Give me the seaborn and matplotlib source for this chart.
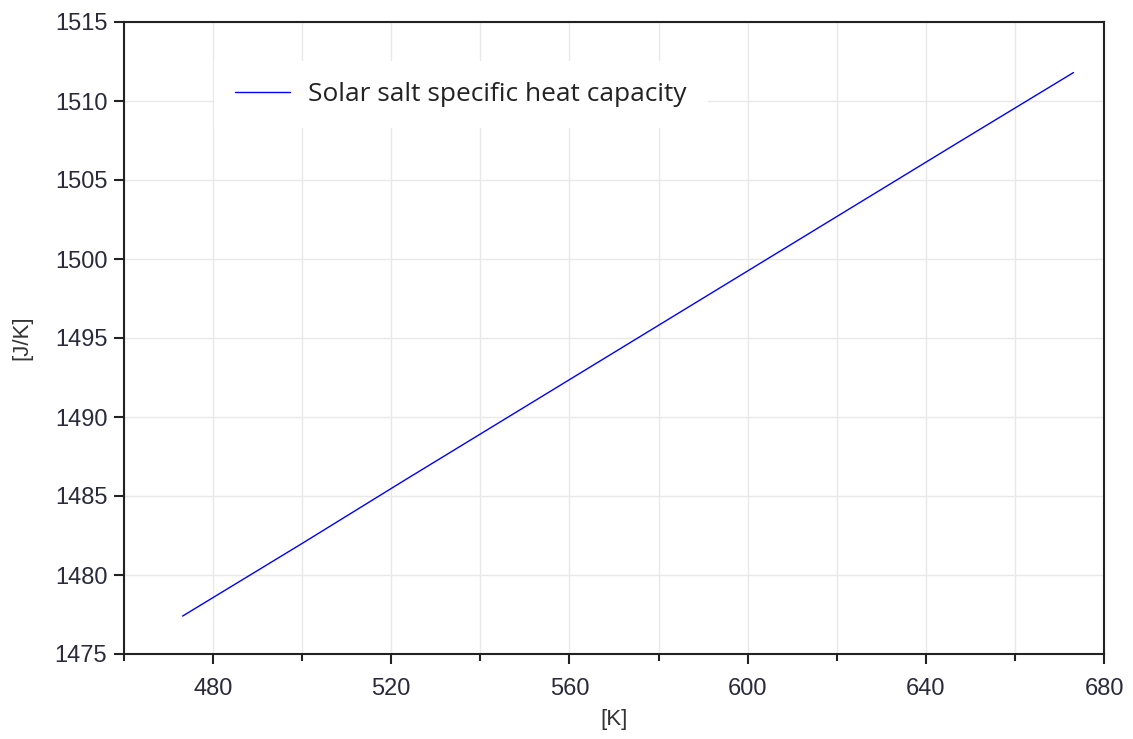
import matplotlib
matplotlib.use("Agg")
import matplotlib.pyplot as plt
import seaborn as sns
import pandas as pd
from matplotlib.ticker import MultipleLocator

temperature_K = [473.15, 500.0, 523.0, 548.0, 573.0, 598.0, 623.0, 648.0, 673.15]
heat_capacity = [1477.4, 1482.0, 1486.0, 1490.3, 1494.6, 1498.9, 1503.2, 1507.5, 1511.8]
series_name = "Solar salt specific heat capacity"
x_label = "[K]"
y_label = "[J/K]"

df = pd.DataFrame({"T": temperature_K, "cp": heat_capacity, "series": series_name})

sns.set_style("white")
plt.rcParams["font.family"] = ["Liberation Sans", "DejaVu Sans"]

fig = plt.figure(figsize=(11.33, 7.39), dpi=100)
ax = fig.add_axes([124/1133, 1 - 654/739, (1104-124)/1133, (654-22)/739])

sns.lineplot(data=df, x="T", y="cp", hue="series", palette=["#0000ff"],
             linewidth=1.0, ax=ax, legend=True)

ax.set_xlim(460, 680)
ax.set_ylim(1475, 1515)
ax.xaxis.set_major_locator(MultipleLocator(40))
ax.xaxis.set_minor_locator(MultipleLocator(20))
ax.yaxis.set_major_locator(MultipleLocator(5))
ax.set_xticks([480, 520, 560, 600, 640, 680])
ax.grid(True, which="both", color="#e8e8e8", linewidth=1.0)
ax.set_axisbelow(True)

for s in ax.spines.values():
    s.set_visible(True)
    s.set_color("#222222")
    s.set_linewidth(1.5)

ax.tick_params(axis="both", which="major", direction="out", length=7, width=1.5,
               colors="#222222", labelsize=17, labelcolor="#2a2a3a", bottom=True, left=True)
ax.tick_params(axis="x", which="major", pad=10)
ax.tick_params(axis="y", which="major", pad=5)
ax.tick_params(axis="x", which="minor", direction="out", length=5, width=1.5,
               colors="#222222", bottom=True)
ax.tick_params(axis="y", which="minor", left=False)

ax.set_xlabel(x_label, fontsize=16, color="#333333", labelpad=7)
ax.set_ylabel(y_label, fontsize=16, color="#333333", labelpad=16)

leg = ax.legend(loc="upper left", bbox_to_anchor=((214-124)/980, 1 - (61-22)/632),
                frameon=True, fancybox=False, framealpha=1.0, edgecolor="white",
                facecolor="white", prop={"family": ["Open Sans", "DejaVu Sans"], "size": 18.9},
                handlelength=2.1, borderpad=0.8, borderaxespad=0, handletextpad=0.7)
leg.get_frame().set_linewidth(0)
for t in leg.get_texts():
    t.set_color("#222222")

fig.savefig("out.png", dpi=100)
